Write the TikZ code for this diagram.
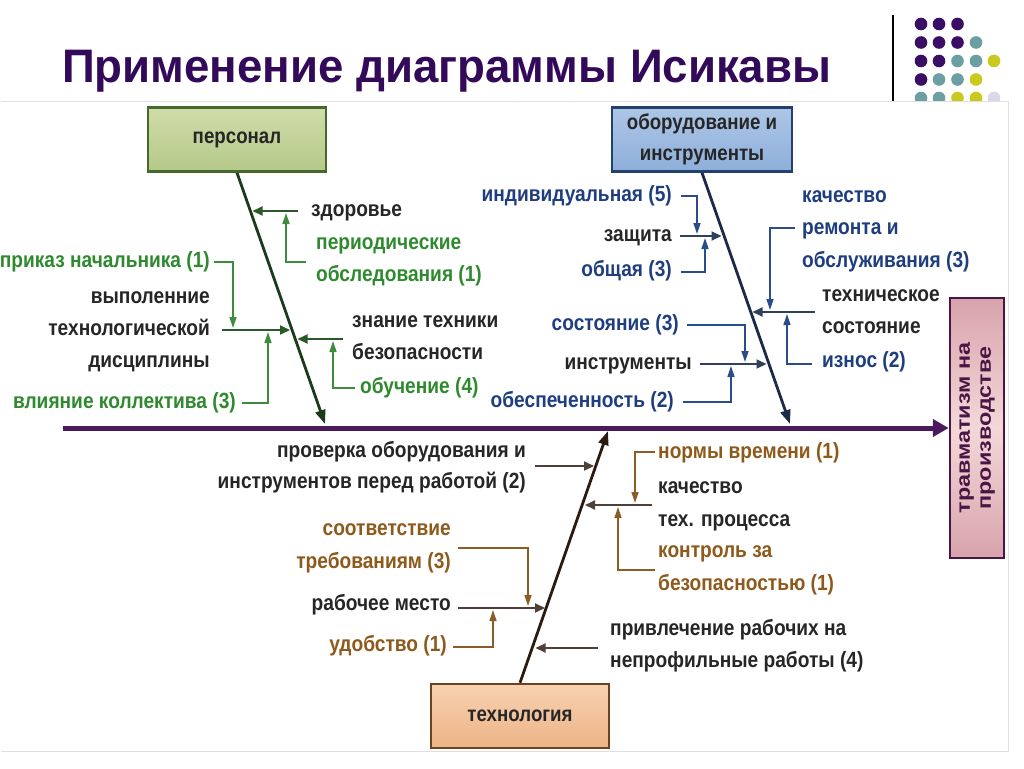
\documentclass[tikz,border=0pt]{standalone}
\usepackage{fontspec}
\setmainfont{Liberation Sans}
\newfontfamily\lblfam{Liberation Sans}[FakeStretch=0.87]
\newfontfamily\ttlfam{Liberation Sans}[FakeStretch=0.97]
\newfontfamily\trfam{Liberation Sans}[FakeStretch=1.2]
\usetikzlibrary{arrows.meta}
\definecolor{ttl}{HTML}{33095A}
\definecolor{spine}{HTML}{4B1A5E}
\definecolor{grntxt}{HTML}{2F8A2F}
\definecolor{grnbrk}{HTML}{3C8C3C}
\definecolor{grnln}{HTML}{2A5A2A}
\definecolor{grnbone}{HTML}{1C3A1C}
\definecolor{blutxt}{HTML}{1F3E80}
\definecolor{blubrk}{HTML}{2A4C8C}
\definecolor{bluln}{HTML}{2F3F5C}
\definecolor{blubone}{HTML}{1B2A48}
\definecolor{brntxt}{HTML}{8E5A1C}
\definecolor{brnbrk}{HTML}{8C5C26}
\definecolor{brnln}{HTML}{4E4038}
\definecolor{brnbone}{HTML}{2A1A10}
\definecolor{blk}{HTML}{262626}
\definecolor{dpur}{HTML}{3B0E66}
\definecolor{dteal}{HTML}{6C9FA2}
\definecolor{dyel}{HTML}{C9C91E}
\definecolor{dlav}{HTML}{D9D9EA}
\definecolor{persA}{HTML}{CFDCA8}
\definecolor{persB}{HTML}{B5C98A}
\definecolor{persD}{HTML}{46682C}
\definecolor{equA}{HTML}{ADC6E6}
\definecolor{equB}{HTML}{8EAFDA}
\definecolor{equD}{HTML}{23406E}
\definecolor{techA}{HTML}{F7D2B0}
\definecolor{techB}{HTML}{EDB387}
\definecolor{techD}{HTML}{6E4220}
\definecolor{trA}{HTML}{D8A3AC}
\definecolor{trB}{HTML}{F3D8D8}
\definecolor{trD}{HTML}{4A1646}
\begin{document}
\begin{tikzpicture}[x=1pt,y=-1pt,
  lbl/.style={inner sep=0pt, font=\lblfam\bfseries\fontsize{22}{26}\selectfont},
  ktxt/.style={lbl,text=blk},
  gtxt/.style={lbl,text=grntxt},
  btxt/.style={lbl,text=blutxt},
  otxt/.style={lbl,text=brntxt},
  L/.style={anchor=base west},
  R/.style={anchor=base east},
  catbox/.style={draw, line width=2.5pt, minimum width=178pt, minimum height=64pt, inner sep=0pt, align=center, font=\lblfam\bfseries\fontsize{21.5}{31}\selectfont, text=blk},
  bonearr/.style={line width=2.8pt, -{Triangle[length=14pt,width=10pt]}},
  subarr/.style={line width=1.8pt, -{Triangle[length=10pt,width=9pt]}},
  brkarr/.style={line width=1.4pt, -{Triangle[length=11pt,width=7pt]}},
  dot/.style={radius=6.3pt}
]
\useasboundingbox (0,0) rectangle (1024,768);
\fill[white] (0,0) rectangle (1024,768);

% title
\node[anchor=base west, inner sep=0pt, text=ttl, font=\ttlfam\bfseries\fontsize{47}{56}\selectfont] (title) at (62,82) {Применение диаграммы Исикавы};
\coordinate (sepT) at (893,15); \coordinate (sepB) at (893,101);
\draw[line width=1.2pt, black] (sepT) -- (sepB);

% dots
\begin{scope}
\clip (900,0) rectangle (1024,101);
\fill[dpur] (921,24) circle[dot] (939,24) circle[dot] (957.5,24) circle[dot];
\fill[dpur] (921,42.5) circle[dot] (939,42.5) circle[dot] (957.5,42.5) circle[dot];
\fill[dteal] (976,42.5) circle[dot];
\fill[dpur] (921,61) circle[dot] (939,61) circle[dot];
\fill[dteal] (957.5,61) circle[dot] (976,61) circle[dot];
\fill[dyel] (994,61) circle[dot];
\fill[dpur] (921,79.5) circle[dot];
\fill[dteal] (939,79.5) circle[dot] (957.5,79.5) circle[dot];
\fill[dyel] (976,79.5) circle[dot];
\fill[dteal] (921,98) circle[dot] (939,98) circle[dot];
\fill[dyel] (957.5,98) circle[dot] (976,98) circle[dot];
\fill[dlav] (994,98) circle[dot];
\end{scope}
\draw[gray!25, line width=0.8pt] (1,101) -- (1008,101) -- (1008,751) -- (1,751);

% category boxes
\node[catbox, draw=persD, top color=persA, bottom color=persB] (pers) at (237,139.5) {персонал};
\node[catbox, minimum width=180pt, draw=equD, top color=equA, bottom color=equB] (equ) at (702,139.5) {оборудование и\\инструменты};
\node[catbox, draw=techD, top color=techA, bottom color=techB] (tech) at (520,716) {технология};
\node[draw=trD, line width=2.5pt, rotate=90, minimum width=260pt, minimum height=54pt, inner sep=0pt, align=center, top color=trA, bottom color=trA, middle color=trB, text=trD, font=\trfam\bfseries\fontsize{19.5}{21}\selectfont] (trb) at (977,428) {травматизм на\\производстве};

% spine
\coordinate (spL) at (63,428);
\draw[spine, line width=5pt, -{Triangle[length=16pt,width=17pt]}] (spL) -- (trb.north);

% bones
\coordinate (pEnd) at (325,424);
\coordinate (eEnd) at (790,424);
\coordinate (tEnd) at (608,431);
\draw[bonearr, grnbone] (pers.south) -- (pEnd);
\draw[bonearr, blubone] (equ.south) -- (eEnd);
\draw[bonearr, brnbone] (tech.north) -- (tEnd);

% ---------- personnel ----------
\node[ktxt,L] (zdor) at (311,216) {здоровье};
\node[gtxt,L] (per1t) at (316,249) {периодические};
\node[gtxt,L] (per2t) at (316,281) {обследования (1)};
\node[gtxt,R] (prik) at (210,267) {приказ начальника (1)};
\node[ktxt,R] (vyp1) at (210,303) {выполенние};
\node[ktxt,R] (vyp2) at (210,335) {технологической};
\node[ktxt,R] (vyp3) at (210,367) {дисциплины};
\node[gtxt,R] (vliy) at (236,408) {влияние коллектива (3)};
\node[ktxt,L] (zn1) at (352,327) {знание техники};
\node[ktxt,L] (zn2) at (352,359) {безопасности};
\node[gtxt,L] (obuch) at (360,393) {обучение (4)};

\coordinate (zdA) at (298,211); \coordinate (zdB) at (252.5,211);
\draw[subarr,grnln] (zdA) -- (zdB);
\coordinate (peA) at (306,262); \coordinate (peB) at (286,262); \coordinate (peC) at (286,213);
\draw[brkarr,grnbrk] (peA) -- (peB) -- (peC);
\coordinate (vyA) at (222,330); \coordinate (vyB) at (290,330);
\draw[subarr,grnln] (vyA) -- (vyB);
\coordinate (prA) at (214,262); \coordinate (prB) at (233,262); \coordinate (prC) at (233,328);
\draw[brkarr,grnbrk] (prA) -- (prB) -- (prC);
\coordinate (vlA) at (242,403); \coordinate (vlB) at (268,403); \coordinate (vlC) at (268,332);
\draw[brkarr,grnbrk] (vlA) -- (vlB) -- (vlC);
\coordinate (znA) at (343,339); \coordinate (znB) at (297.5,339);
\draw[subarr,grnln] (znA) -- (znB);
\coordinate (obA) at (355,388); \coordinate (obB) at (333,388); \coordinate (obC) at (333,341);
\draw[brkarr,grnbrk] (obA) -- (obB) -- (obC);

% ---------- equipment ----------
\node[btxt,R] (indiv) at (672,201) {индивидуальная (5)};
\node[ktxt,R] (zasch) at (672,241) {защита};
\node[btxt,R] (obsch) at (672,276) {общая (3)};
\node[btxt,R] (sost) at (679,330) {состояние (3)};
\node[ktxt,R] (instr) at (692,369) {инструменты};
\node[btxt,R] (obesp) at (674,407) {обеспеченность (2)};
\node[btxt,L] (kach1) at (802,202) {качество};
\node[btxt,L] (kach2) at (802,234) {ремонта и};
\node[btxt,L] (kach3) at (802,267) {обслуживания (3)};
\node[ktxt,L] (tsos1) at (822,301) {техническое};
\node[ktxt,L] (tsos2) at (822,333) {состояние};
\node[btxt,L] (izn) at (822,367) {износ (2)};

\coordinate (zaA) at (680,236); \coordinate (zaB) at (721.5,236);
\draw[subarr,bluln] (zaA) -- (zaB);
\coordinate (inA) at (681,196); \coordinate (inB) at (697,196); \coordinate (inC) at (697,234);
\draw[brkarr,blubrk] (inA) -- (inB) -- (inC);
\coordinate (ogA) at (681,272); \coordinate (ogB) at (705,272); \coordinate (ogC) at (705,238);
\draw[brkarr,blubrk] (ogA) -- (ogB) -- (ogC);
\coordinate (isA) at (700,364); \coordinate (isB) at (766.5,364);
\draw[subarr,bluln] (isA) -- (isB);
\coordinate (soA) at (687,325); \coordinate (soB) at (745,325); \coordinate (soC) at (745,362);
\draw[brkarr,blubrk] (soA) -- (soB) -- (soC);
\coordinate (oeA) at (683,402); \coordinate (oeB) at (731,402); \coordinate (oeC) at (731,366);
\draw[brkarr,blubrk] (oeA) -- (oeB) -- (oeC);
\coordinate (tsA) at (815,312); \coordinate (tsB) at (752.5,312);
\draw[subarr,bluln] (tsA) -- (tsB);
\coordinate (kaA) at (795,228); \coordinate (kaB) at (770,228); \coordinate (kaC) at (770,310);
\draw[brkarr,blubrk] (kaA) -- (kaB) -- (kaC);
\coordinate (izA) at (812,364); \coordinate (izB) at (787,364); \coordinate (izC) at (787,314);
\draw[brkarr,blubrk] (izA) -- (izB) -- (izC);

% ---------- technology ----------
\node[ktxt,R] (prov1) at (526,457) {проверка оборудования и};
\node[ktxt,R] (prov2) at (526,488) {инструментов перед работой (2)};
\node[otxt,L] (norm) at (658,458) {нормы времени (1)};
\node[ktxt,L] (ktp1) at (658,493) {качество};
\node[ktxt,L] (ktp2) at (658,526) {тех. процесса};
\node[otxt,L] (kontr1) at (658,557) {контроль за};
\node[otxt,L] (kontr2) at (658,590) {безопасностью (1)};
\node[ktxt,L] (priv1) at (610,635) {привлечение рабочих на};
\node[ktxt,L] (priv2) at (610,667) {непрофильные работы (4)};
\node[otxt,R] (sootv1) at (451,535) {соответствие};
\node[otxt,R] (sootv2) at (451,568) {требованиям (3)};
\node[ktxt,R] (rabm) at (451,610) {рабочее место};
\node[otxt,R] (udob) at (447,651) {удобство (1)};

\coordinate (pvA) at (535,466); \coordinate (pvB) at (594,466);
\draw[subarr,brnln] (pvA) -- (pvB);
\coordinate (nmA) at (655,452); \coordinate (nmB) at (635,452); \coordinate (nmC) at (635,503);
\draw[brkarr,brnbrk] (nmA) -- (nmB) -- (nmC);
\coordinate (ktA) at (652,505); \coordinate (ktB) at (585,505);
\draw[subarr,brnln] (ktA) -- (ktB);
\coordinate (koA) at (655,570); \coordinate (koB) at (618,570); \coordinate (koC) at (618,507);
\draw[brkarr,brnbrk] (koA) -- (koB) -- (koC);
\coordinate (plA) at (598,648); \coordinate (plB) at (535.5,648);
\draw[subarr,brnln] (plA) -- (plB);
\coordinate (rmA) at (458,608); \coordinate (rmB) at (545,608);
\draw[subarr,brnln] (rmA) -- (rmB);
\coordinate (stA) at (458,548); \coordinate (stB) at (528,548); \coordinate (stC) at (528,606);
\draw[brkarr,brnbrk] (stA) -- (stB) -- (stC);
\coordinate (udA) at (453,647); \coordinate (udB) at (493,647); \coordinate (udC) at (493,610);
\draw[brkarr,brnbrk] (udA) -- (udB) -- (udC);
\end{tikzpicture}
\end{document}
